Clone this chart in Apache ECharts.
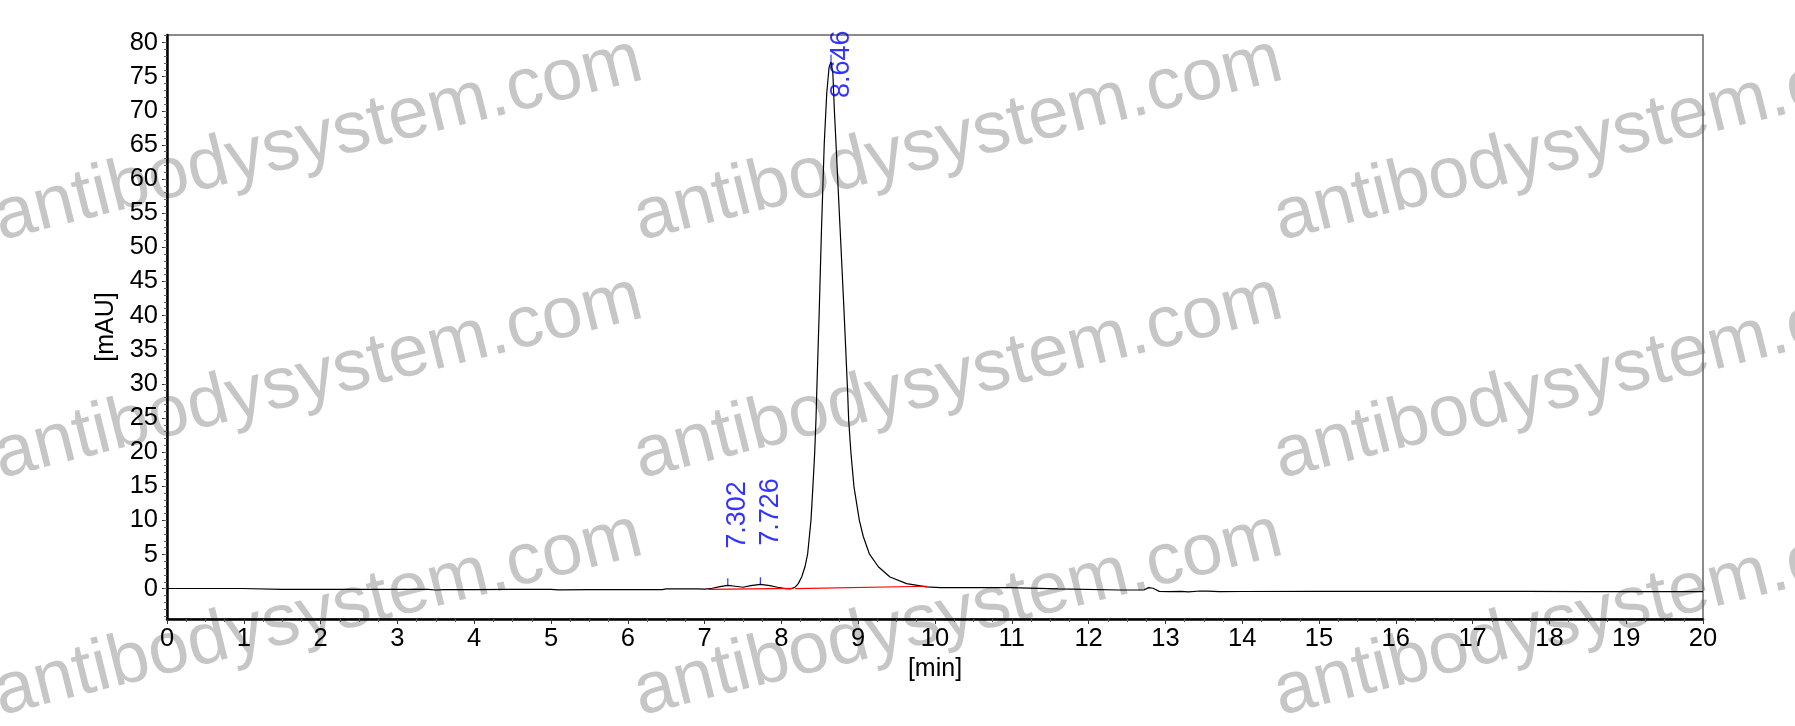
<!DOCTYPE html>
<html><head><meta charset="utf-8">
<script src="https://cdn.jsdelivr.net/npm/echarts@6/dist/echarts.min.js"></script>
<style>html,body{margin:0;padding:0;background:#fff}#c{width:1795px;height:726px}</style>
</head><body><div id="c"></div>
<script>
// Chromatogram trace (retention time [min], absorbance [mAU])
const traceTime = [0.00,0.50,0.98,1.00,1.50,2.00,2.50,3.00,3.40,3.50,3.60,4.00,4.50,5.00,5.10,5.50,6.00,6.45,6.50,6.90,
  7.00,7.10,7.20,7.302,7.40,7.50,7.60,7.726,7.85,7.95,8.05,8.12,8.18,8.22,8.264,8.307,8.342,8.385,8.41,8.433,8.45,8.46,
  8.493,8.523,8.558,8.59,8.62,8.646,8.67,8.69,8.711,8.763,8.815,8.863,8.876,8.906,8.945,9.015,9.067,9.145,9.262,9.414,
  9.63,9.89,10.07,10.50,10.98,11.00,11.60,11.62,12.40,12.72,12.78,12.84,12.92,13.05,13.20,13.30,13.45,13.55,13.70,14.00,
  15.00,16.00,17.00,17.70,17.72,18.50,20.00];
const traceValue = [0.02,0.02,0.02,-0.12,-0.12,-0.10,-0.10,-0.12,-0.12,-0.20,-0.14,-0.14,-0.12,-0.10,-0.18,-0.15,-0.15,-0.15,-0.05,-0.05,
  -0.08,0.05,0.30,0.48,0.35,0.20,0.45,0.63,0.45,0.20,0.00,-0.05,0.23,0.73,1.7,3.2,5.1,10.0,14.9,19.8,24.7,28.6,
  40.8,53.0,65.2,72.5,76.3,77.2,75.5,70.0,65.2,53.0,40.8,28.6,24.7,19.8,14.9,10.0,7.6,5.1,3.2,1.7,
  0.73,0.25,0.15,0.15,0.15,-0.05,-0.05,-0.20,-0.20,-0.20,0.15,0.05,-0.40,-0.45,-0.40,-0.48,-0.35,-0.38,-0.45,-0.42,
  -0.40,-0.40,-0.40,-0.40,-0.45,-0.45,-0.45];

// Integrated peaks
const peakTimes = [7.302, 7.726, 8.646];
const peakHeights = [0.48, 0.63, 77.2];

// Integration baselines (red)
const baseline1Time = [7.05, 8.16];
const baseline1Value = [-0.12, 0.05];
const baseline2Time = [8.18, 9.90];
const baseline2Value = [0.00, 0.35];

// Axis ticks
const xTicks = [0,1,2,3,4,5,6,7,8,9,10,11,12,13,14,15,16,17,18,19,20];
const yTicks = [0,5,10,15,20,25,30,35,40,45,50,55,60,65,70,75,80];
const yMinorTicks = [-4,-3,-2,-1,0,1,2,3,4,5,6,7,8,9,10,11,12,13,14,15,16,17,18,19,20,21,22,23,24,25,26,27,28,29,30,
  31,32,33,34,35,36,37,38,39,40,41,42,43,44,45,46,47,48,49,50,51,52,53,54,55,56,57,58,59,60,61,62,63,64,65,66,67,68,69,70,
  71,72,73,74,75,76,77,78,79,80,81];

const watermarkText = 'antibodysystem.com';

const FONT = '"Liberation Sans", Arial, sans-serif';
const trace = traceTime.map((t, i) => [t, traceValue[i]]);
const peaks = peakTimes.map((t, i) => [t, peakHeights[i]]);
const labelOffsets = [[33, 10], [35, 10.5], [-40, 11]];

const wmX = [318, 958, 1598];
const wmY = [140, 378, 615];
const graphics = [];
wmX.forEach(x => wmY.forEach(y => graphics.push({
  type: 'text', x: x, y: y, rotation: 0.245, z: -10, silent: true,
  style: { text: watermarkText, font: '73px ' + FONT, fill: '#c6c6c6', align: 'center', verticalAlign: 'middle' }
})));

const chart = echarts.init(document.getElementById('c'), null, { renderer: 'canvas' });
chart.setOption({
  animation: false,
  backgroundColor: '#ffffff',
  graphic: graphics,
  grid: { left: 167, right: 92, top: 35, bottom: 107, show: true, borderColor: '#666666', borderWidth: 1.5, backgroundColor: 'transparent' },
  xAxis: {
    type: 'value', min: 0, max: 20, interval: 1,
    name: '[min]', nameLocation: 'middle', nameGap: 38,
    nameTextStyle: { fontSize: 25, color: '#000', fontFamily: FONT },
    axisLine: { show: true, onZero: false, lineStyle: { color: '#000', width: 2.5 } },
    axisTick: { show: true, length: 5, lineStyle: { color: '#333', width: 1 } },
    minorTick: { show: true, splitNumber: 4, length: 3, lineStyle: { color: '#555', width: 1 } },
    axisLabel: { fontSize: 25.5, color: '#000', fontFamily: FONT, margin: 7,
      customValues: xTicks },
    splitLine: { show: false }
  },
  yAxis: [{
    type: 'value', min: -4.45, max: 81.1,
    name: '[mAU]', nameLocation: 'middle', nameGap: 47,
    nameTextStyle: { fontSize: 25, color: '#000', fontFamily: FONT },
    axisLine: { show: true, onZero: false, lineStyle: { color: '#000', width: 2.5 } },
    axisTick: { show: true, length: 5, customValues: yTicks, lineStyle: { color: '#333', width: 1 } },
    axisLabel: { fontSize: 25.5, color: '#000', fontFamily: FONT, margin: 9, customValues: yTicks },
    splitLine: { show: false }
  }, {
    type: 'value', min: -4.45, max: 81.1, position: 'left',
    axisLine: { show: false },
    axisTick: { show: true, length: 3, customValues: yMinorTicks, lineStyle: { color: '#666', width: 1 } },
    axisLabel: { show: false },
    splitLine: { show: false }
  }],
  series: [{
    type: 'line', data: trace, showSymbol: false, symbol: 'none',
    lineStyle: { color: '#000', width: 1.2 }, z: 3
  }, {
    type: 'line', data: baseline1Time.map((t, i) => [t, baseline1Value[i]]), symbol: 'none',
    lineStyle: { color: '#ff0000', width: 1.2 }, z: 4
  }, {
    type: 'line', data: baseline2Time.map((t, i) => [t, baseline2Value[i]]), symbol: 'none',
    lineStyle: { color: '#ff0000', width: 1.2 }, z: 4
  }, {
    type: 'scatter', z: 5,
    data: peaks.map((p, i) => ({ value: p, label: { offset: labelOffsets[i] } })),
    symbol: 'rect', symbolSize: [1.2, 7], symbolOffset: [0, -3.5],
    itemStyle: { color: '#0000ff' },
    label: {
      show: true, position: 'inside', rotate: 90, align: 'left', verticalAlign: 'middle',
      fontSize: 27, color: '#0000ff', fontFamily: FONT,
      formatter: p => p.value[0].toFixed(3)
    }
  }]
});
</script></body></html>
